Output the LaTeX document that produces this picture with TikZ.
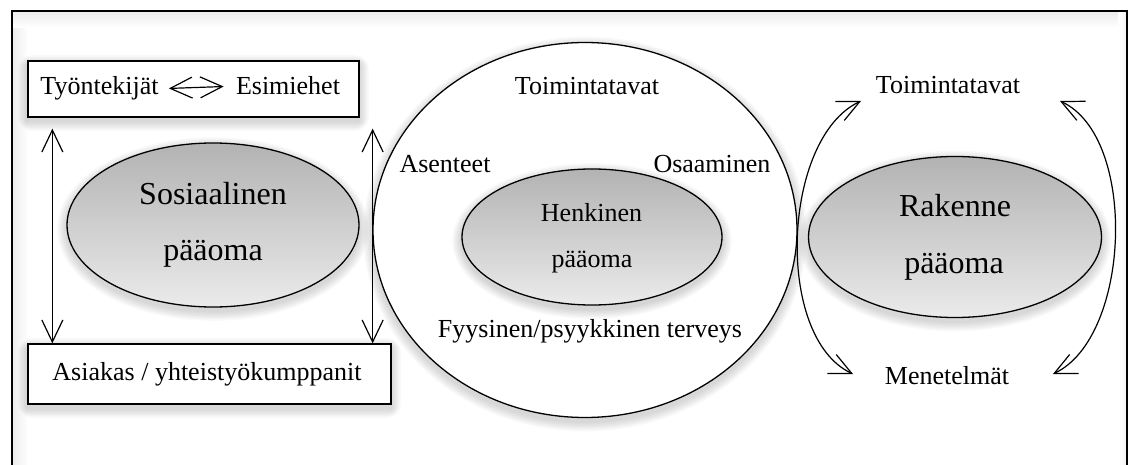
\documentclass[tikz,border=0pt]{standalone}
\usepackage{fontspec}
\setmainfont{Liberation Serif}
\usetikzlibrary{arrows.meta,shapes.geometric,calc}

% soft drop shadows built from stacked translucent layers
\newcommand\mkovalshadow[4]{%
  \foreach \k in {1,...,7}{\fill[black,opacity=0.022] (#1,#2-4) ellipse [x radius={#3+1.4*\k}, y radius={#4+1.4*\k}];}}
\newcommand\mkboxshadow[4]{%
  \foreach \k in {1,...,7}{\fill[black,opacity=0.022,rounded corners=\k pt]
    (#1-1.4*\k,#2-4+1.4*\k) rectangle (#3+1.4*\k,#4-4-1.4*\k);}}

\begin{document}
\begin{tikzpicture}[x=0.5pt,y=0.5pt,
  txt/.style={inner sep=0pt,font=\fontsize{13}{15}\selectfont,anchor=base},
  bigtxt/.style={inner sep=0pt,font=\fontsize{16}{19}\selectfont,anchor=base},
  box/.style={draw,line width=0.65pt,fill=white,rectangle,inner sep=0pt},
  oval/.style={draw,line width=0.65pt,ellipse,inner sep=0pt,top color=black!30,bottom color=black!8},
  link/.style={line width=0.6pt,{Straight Barb[length=11pt,width=10.5pt]}-{Straight Barb[length=11pt,width=10.5pt]}},
]
\useasboundingbox (0,0) rectangle (1136,-465);

% soft inner shading along the frame
\shade[left color=black!7,right color=white] (13,-12) rectangle (28,-465);
\shade[top color=black!7,bottom color=white] (13,-12) rectangle (1126,-28);
\shade[left color=white,right color=black!4] (1118,-12) rectangle (1126,-465);

% outer frame
\draw[line width=1pt] (12,-480) -- (12,-11) -- (1127,-11) -- (1127,-480);

% left block: social capital
\mkboxshadow{28}{-61}{359}{-117}
\node[box,minimum width=165.5pt,minimum height=28pt] (topbox) at (193.5,-89) {};
\mkboxshadow{28}{-344}{391}{-404}
\node[box,minimum width=181.5pt,minimum height=30pt] (botbox) at (209.5,-374) {};
\mkovalshadow{213}{-225}{146}{82}
\node[oval,minimum width=146pt,minimum height=82pt] (soc) at (213,-225) {};

% middle block: human capital
\mkovalshadow{585}{-230}{212}{187.5}
\node[draw,line width=0.65pt,ellipse,fill=white,inner sep=0pt,
      minimum width=212pt,minimum height=187.5pt] (ring) at (585,-230) {};
\mkovalshadow{592}{-237}{130}{68}
\node[oval,minimum width=130pt,minimum height=68pt] (hen) at (592,-237) {};

% right block: structural capital
\mkovalshadow{955}{-237}{146.5}{80.5}
\node[oval,minimum width=146.5pt,minimum height=80.5pt] (rak) at (955,-237) {};

% texts
\node[txt] (tyo) at (99.5,-95) {Työntekijät};
\node[txt] (esi) at (288,-95) {Esimiehet};
\node[txt] (asiakas) at (207,-380) {Asiakas / yhteistyökumppanit};
\node[bigtxt] (soc1) at (213,-205) {Sosiaalinen};
\node[bigtxt] (soc2) at (213,-260) {pääoma};

\node[txt] (toim1) at (587,-95) {Toimintatavat};
\node[txt] (asen) at (445,-173) {Asenteet};
\node[txt] (osaa) at (712,-173) {Osaaminen};
\node[txt] (hen1) at (591.5,-221) {Henkinen};
\node[txt] (hen2) at (592,-267) {pääoma};
\node[txt] (terv) at (590,-337) {Fyysinen/psyykkinen terveys};

\node[bigtxt] (rak1) at (955,-217) {Rakenne};
\node[bigtxt] (rak2) at (954,-273) {pääoma};
\node[txt] (toim2) at (948,-94) {Toimintatavat};
\node[txt] (men) at (947,-384) {Menetelmät};

% connectors
\draw[link,shorten <=5pt,shorten >=6pt] (tyo.east) -- (esi.west);
\draw[link] ($(topbox.south west)+(25,-11)$) -- ($(botbox.north west)+(25,0)$);
\draw[link] ($(botbox.north east |- topbox.south)+(-19,-11)$) -- ($(botbox.north east)+(-19,0)$);

\coordinate (lt) at (861,-101);
\coordinate (lb) at (853,-374);
\coordinate (rt) at (1060,-101);
\coordinate (rb) at (1053,-374);
\draw[link] (lt) .. controls (782,-138) and (774,-337) .. (lb);
\draw[link] (rt) .. controls (1138,-137) and (1131,-337) .. (rb);
\end{tikzpicture}
\end{document}
